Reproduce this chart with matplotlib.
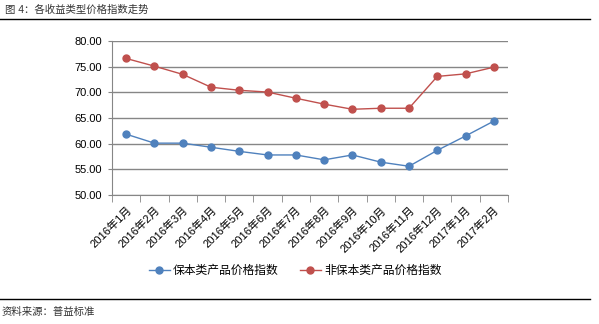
import numpy as np
import matplotlib
matplotlib.use("Agg")
import matplotlib.pyplot as plt

plt.rcParams['font.family'] = ['Liberation Sans', 'Noto Sans CJK SC']

# data
months = ["2016年1月", "2016年2月", "2016年3月", "2016年4月", "2016年5月", "2016年6月",
          "2016年7月", "2016年8月", "2016年9月", "2016年10月", "2016年11月", "2016年12月",
          "2017年1月", "2017年2月"]
baoben = [61.85, 60.1, 60.1, 59.3, 58.5, 57.8, 57.8, 56.85, 57.8, 56.4, 55.6, 58.7, 61.5, 64.4]
fei_baoben = [76.6, 75.1, 73.5, 71.0, 70.4, 70.05, 68.85, 67.7, 66.7, 66.9, 66.9, 73.1, 73.6, 74.9]
yticks = [50, 55, 60, 65, 70, 75, 80]

blue = "#4F81BD"
red = "#C0504D"
grid_c = "#868686"

fig = plt.figure(figsize=(5.99, 3.24), dpi=100)
ax = fig.add_axes([112/599, 1-195/324, 396/599, 154/324])

x = np.arange(len(months))
ax.plot(x, baoben, color=blue, lw=1, marker='o', ms=5, label="保本类产品价格指数")
ax.plot(x, fei_baoben, color=red, lw=1, marker='o', ms=5, label="非保本类产品价格指数")

ax.set_xlim(-0.5, len(months)-0.5)
ax.set_ylim(50, 80)
ax.set_yticks(yticks)
ax.set_yticklabels(["%.2f" % v for v in yticks], fontsize=8)
ax.yaxis.grid(True, color=grid_c, lw=1)
ax.set_axisbelow(True)

ax.set_xticks(x)
ax.set_xticklabels(months, rotation=45, ha='right', rotation_mode='anchor', fontsize=8)
ax.set_xticks(np.arange(-0.5, len(months)), minor=True)
ax.tick_params(axis='x', which='major', length=0, pad=7)
ax.tick_params(axis='x', which='minor', length=5, color=grid_c)
ax.tick_params(axis='y', length=3, color=grid_c, pad=4)

for s in ['top', 'right']:
    ax.spines[s].set_visible(False)
ax.spines['left'].set_color(grid_c)
ax.spines['bottom'].set_color(grid_c)

ax.legend(loc='center', bbox_to_anchor=(295/599, 1-271/324), bbox_transform=fig.transFigure,
          ncol=2, frameon=False, fontsize=8.5, handlelength=1.8, handletextpad=0.25,
          columnspacing=1.8)

# title, rules and source
fig.text(5/599, 1-10/324, "图 4：各收益类型价格指数走势", fontsize=7.5, va='center', ha='left', color='#333333')
fig.add_artist(plt.Line2D([0, 590/599], [1-19/324, 1-19/324], color='black', lw=1))
fig.add_artist(plt.Line2D([0, 590/599], [1-299/324, 1-299/324], color='black', lw=1))
fig.text(2/599, 1-312/324, "资料来源：普益标准", fontsize=7.5, va='center', ha='left', color='#333333')

fig.savefig("out.png", dpi=100)
